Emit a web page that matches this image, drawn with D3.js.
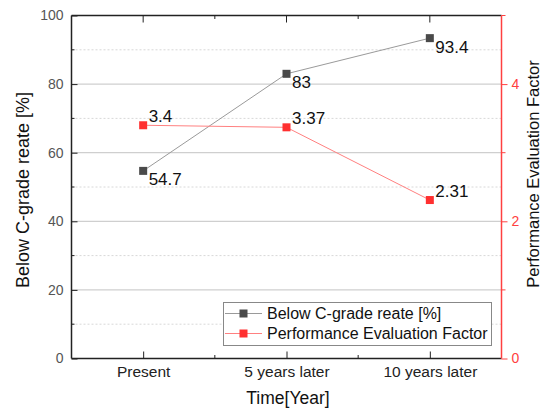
<!DOCTYPE html>
<html><head><meta charset="utf-8">
<script src="https://cdn.jsdelivr.net/npm/d3@7"></script>
<style>body{margin:0;background:#fff;} text{font-family:Arial,"Liberation Sans",sans-serif;}</style>
</head><body>
<svg id="c" width="549" height="411"></svg>
<script>
const categories = ["Present", "5 years later", "10 years later"];
const belowCGrade = [54.7, 83, 93.4];
const perfFactor = [3.4, 3.37, 2.31];
const leftTicks = [0, 20, 40, 60, 80, 100];
const rightTicks = [0, 2, 4];
const seriesNames = ["Below C-grade reate [%]", "Performance Evaluation Factor"];

const svg = d3.select("#c");
const L = 71.5, R = 501.5, T = 15.5, B = 358.5;
const x = d3.scalePoint().domain(categories).range([L, R]).padding(0.5);
const yL = d3.scaleLinear().domain([0, 100]).range([B, T]);
const yR = d3.scaleLinear().domain([0, 5]).range([B, T]);

// gridlines
const g = svg.append("g");
[10,30,50,70,90].forEach(v => g.append("line").attr("x1", L).attr("x2", R).attr("y1", yL(v)).attr("y2", yL(v))
  .attr("stroke", "#d8d8d8").attr("stroke-width", 1).attr("stroke-dasharray", "2,2"));
[20,40,60,80].forEach(v => g.append("line").attr("x1", L).attr("x2", R).attr("y1", yL(v)).attr("y2", yL(v))
  .attr("stroke", "#cfcfcf").attr("stroke-width", 1.2));

// lines
const line1 = d3.line().x((d,i) => x(categories[i])).y(d => yL(d));
const line2 = d3.line().x((d,i) => x(categories[i])).y(d => yR(d));
svg.append("path").attr("d", line1(belowCGrade)).attr("fill", "none").attr("stroke", "#9a9a9a").attr("stroke-width", 1);
svg.append("path").attr("d", line2(perfFactor)).attr("fill", "none").attr("stroke", "#ff8080").attr("stroke-width", 1);

// axes frame
svg.append("line").attr("x1", L).attr("x2", R).attr("y1", T).attr("y2", T).attr("stroke", "#222").attr("stroke-width", 1.5);
svg.append("line").attr("x1", L).attr("x2", R).attr("y1", B).attr("y2", B).attr("stroke", "#222").attr("stroke-width", 1.5);
svg.append("line").attr("x1", L).attr("x2", L).attr("y1", T).attr("y2", B).attr("stroke", "#222").attr("stroke-width", 1.5);
svg.append("line").attr("x1", R).attr("x2", R).attr("y1", T).attr("y2", B).attr("stroke", "#ff4040").attr("stroke-width", 1.5);

// left axis
const axL = d3.axisLeft(yL).tickValues(leftTicks).tickSize(-6).tickPadding(8);
const gL = svg.append("g").attr("transform", `translate(${L},0)`).call(axL);
gL.select(".domain").remove();
gL.selectAll("line").attr("stroke", "#222");
gL.selectAll("text").attr("fill", "#555").attr("font-size", 14).style("font-family", "Arial");
[10,30,50,70,90].forEach(v => svg.append("line").attr("x1", L).attr("x2", L + 3).attr("y1", yL(v)).attr("y2", yL(v)).attr("stroke", "#222"));

// right axis
const axR = d3.axisRight(yR).tickValues(rightTicks).tickFormat(d3.format("d")).tickSize(6).tickPadding(4);
const gR = svg.append("g").attr("transform", `translate(${R},0)`).call(axR);
gR.select(".domain").remove();
gR.selectAll("line").attr("stroke", "#ff4040");
gR.selectAll("text").attr("fill", "#ff4040").attr("font-size", 14).style("font-family", "Arial");
[1,3,5].forEach(v => svg.append("line").attr("x1", R).attr("x2", R + 4).attr("y1", yR(v)).attr("y2", yR(v)).attr("stroke", "#ff4040"));

// bottom axis
const axB = d3.axisBottom(x).tickSize(-7).tickPadding(7.5);
const gB = svg.append("g").attr("transform", `translate(0,${B})`).call(axB);
gB.select(".domain").remove();
gB.selectAll("line").attr("stroke", "#222");
gB.selectAll("text").attr("fill", "#222").attr("font-size", 15.5).style("font-family", "Arial");
// minor x ticks and top ticks
for (let i = 0; i < categories.length - 1; i++) {
  const mx = (x(categories[i]) + x(categories[i+1])) / 2;
  svg.append("line").attr("x1", mx).attr("x2", mx).attr("y1", B).attr("y2", B - 3.5).attr("stroke", "#222");
  svg.append("line").attr("x1", mx).attr("x2", mx).attr("y1", T).attr("y2", T + 3.5).attr("stroke", "#222");
}
categories.forEach(c => svg.append("line").attr("x1", x(c)).attr("x2", x(c)).attr("y1", T).attr("y2", T + 7).attr("stroke", "#222"));

// markers
const ms = 8;
svg.selectAll(".m1").data(belowCGrade).enter().append("rect")
  .attr("x", (d,i) => x(categories[i]) - ms/2).attr("y", d => yL(d) - ms/2)
  .attr("width", ms).attr("height", ms).attr("fill", "#4a4a4a");
svg.selectAll(".m2").data(perfFactor).enter().append("rect")
  .attr("x", (d,i) => x(categories[i]) - ms/2).attr("y", d => yR(d) - ms/2)
  .attr("width", ms).attr("height", ms).attr("fill", "#ff3030");

// value labels
svg.selectAll(".l1").data(belowCGrade).enter().append("text")
  .attr("x", (d,i) => x(categories[i]) + 5.5).attr("y", d => yL(d) + 14.5)
  .attr("font-size", 17).attr("fill", "#111").text(d => d);
svg.selectAll(".l2").data(perfFactor).enter().append("text")
  .attr("x", (d,i) => x(categories[i]) + 5.5).attr("y", d => yR(d) - 3)
  .attr("font-size", 17).attr("fill", "#111").text(d => d);

// titles
svg.append("text").attr("transform", `translate(29,190) rotate(-90)`).attr("text-anchor", "middle")
  .attr("font-size", 18).attr("fill", "#111").text(seriesNames[0]);
svg.append("text").attr("transform", `translate(539,174) rotate(-90)`).attr("text-anchor", "middle")
  .attr("font-size", 16.5).attr("fill", "#111").text(seriesNames[1]);
svg.append("text").attr("x", 288).attr("y", 404).attr("text-anchor", "middle")
  .attr("font-size", 17.5).attr("fill", "#111").text("Time[Year]");

// legend
const lg = svg.append("g");
lg.append("rect").attr("x", 223.5).attr("y", 302.5).attr("width", 268).attr("height", 43)
  .attr("fill", "#fff").attr("stroke", "#888").attr("stroke-width", 1);
const colsLine = ["#9a9a9a", "#ff8080"], colsMark = ["#4a4a4a", "#ff3030"];
seriesNames.forEach((n, i) => {
  const yy = 313.5 + i * 20;
  lg.append("line").attr("x1", 225).attr("x2", 262).attr("y1", yy).attr("y2", yy).attr("stroke", colsLine[i]);
  lg.append("rect").attr("x", 243.5 - 4).attr("y", yy - 4).attr("width", 8).attr("height", 8).attr("fill", colsMark[i]);
  lg.append("text").attr("x", 267).attr("y", yy + 5.5).attr("font-size", 16).attr("fill", "#111").text(n);
});
</script>
</body></html>
